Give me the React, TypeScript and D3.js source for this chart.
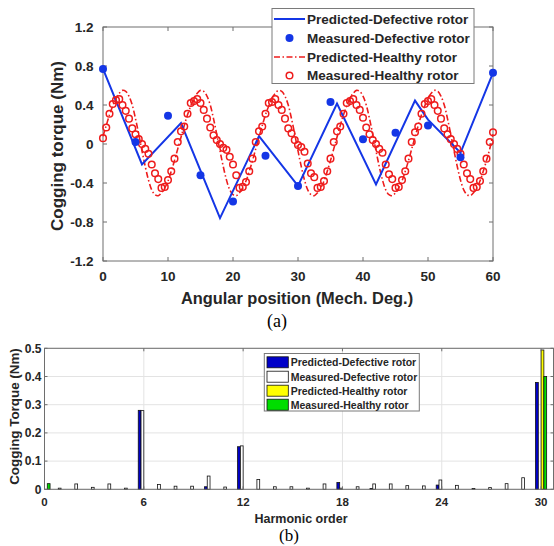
import React from "react";
import * as d3 from "d3";

// ---------- (a) cogging torque vs angular position ----------
const predDefAngles = [0, 6, 12, 18, 24, 30, 36, 42, 48, 50, 55, 60];
const predDefValues = [0.77, -0.21, 0.215, -0.76, 0.08, -0.43, 0.415, -0.415, 0.445, 0.25, -0.09, 0.73];

const measDefAngles = [0, 5, 10, 15, 20, 25, 30, 35, 40, 45, 50, 55, 60];
const measDefValues = [0.77, 0.02, 0.29, -0.32, -0.59, -0.12, -0.43, 0.43, 0.05, 0.115, 0.19, -0.135, 0.73];

const healthyAngles = d3.range(0, 60.001, 0.5);
const predHealthyValues = [
  0.08, 0.19, 0.30, 0.39, 0.47, 0.52, 0.55, 0.54, 0.49, 0.40, 0.26, 0.10,
  -0.07, -0.23, -0.37, -0.47, -0.52, -0.53, -0.50, -0.45, -0.38, -0.28, -0.17, -0.05,
  0.07, 0.19, 0.30, 0.39, 0.47, 0.52, 0.55, 0.54, 0.49, 0.40, 0.26, 0.10,
  -0.07, -0.23, -0.37, -0.47, -0.52, -0.53, -0.50, -0.45, -0.38, -0.28, -0.17, -0.05,
  0.07, 0.19, 0.30, 0.39, 0.47, 0.52, 0.55, 0.54, 0.49, 0.40, 0.26, 0.10,
  -0.07, -0.23, -0.37, -0.47, -0.52, -0.53, -0.50, -0.45, -0.38, -0.28, -0.17, -0.05,
  0.07, 0.19, 0.30, 0.39, 0.47, 0.52, 0.55, 0.54, 0.49, 0.40, 0.26, 0.10,
  -0.07, -0.23, -0.37, -0.47, -0.52, -0.53, -0.50, -0.45, -0.38, -0.28, -0.17, -0.05,
  0.07, 0.19, 0.30, 0.39, 0.47, 0.52, 0.55, 0.54, 0.49, 0.40, 0.26, 0.10,
  -0.07, -0.23, -0.37, -0.47, -0.52, -0.53, -0.50, -0.45, -0.38, -0.28, -0.17, -0.05,
  0.10,
];
const measHealthyValues = [
  0.06, 0.17, 0.31, 0.41, 0.45, 0.46, 0.40, 0.34, 0.26, 0.16, 0.10, 0.05,
  0.00, -0.05, -0.10, -0.21, -0.30, -0.36, -0.45, -0.44, -0.37, -0.28, -0.15, 0.02,
  0.13, 0.18, 0.31, 0.42, 0.44, 0.46, 0.42, 0.35, 0.26, 0.17, 0.09, 0.04,
  0.00, -0.04, -0.06, -0.13, -0.21, -0.32, -0.45, -0.44, -0.39, -0.28, -0.15, 0.02,
  0.13, 0.18, 0.31, 0.42, 0.43, 0.46, 0.40, 0.35, 0.26, 0.16, 0.11, 0.04,
  -0.01, -0.03, -0.08, -0.20, -0.30, -0.34, -0.45, -0.44, -0.38, -0.28, -0.15, 0.02,
  0.13, 0.18, 0.31, 0.42, 0.44, 0.46, 0.40, 0.35, 0.27, 0.17, 0.10, 0.04,
  0.00, -0.05, -0.09, -0.21, -0.31, -0.36, -0.45, -0.44, -0.37, -0.28, -0.15, 0.02,
  0.12, 0.18, 0.31, 0.41, 0.44, 0.46, 0.40, 0.34, 0.26, 0.16, 0.10, 0.05,
  0.00, -0.05, -0.10, -0.21, -0.30, -0.36, -0.45, -0.44, -0.38, -0.28, -0.15, 0.02,
  0.12,
];

const xTicksA = [0, 10, 20, 30, 40, 50, 60];
const yTicksA = [1.2, 0.8, 0.4, 0, -0.4, -0.8, -1.2];
const legendA = [
  "Predicted-Defective rotor",
  "Measured-Defective rotor",
  "Predicted-Healthy rotor",
  "Measured-Healthy rotor",
];

// ---------- (b) harmonic spectrum ----------
const harmonics = d3.range(0, 31);
const harmPredDef = [
  0, 0, 0, 0, 0, 0, 0.28, 0, 0, 0, 0.009, 0, 0.151, 0, 0, 0, 0, 0, 0.024, 0,
  0.003, 0, 0, 0, 0.015, 0, 0, 0, 0, 0, 0.379,
];
const harmMeasDef = [
  0, 0.004, 0.019, 0.007, 0.019, 0.004, 0.279, 0.017, 0.011, 0.011, 0.047, 0.008,
  0.154, 0.035, 0.009, 0.009, 0.004, 0.019, 0.004, 0.009, 0.019, 0.019, 0.013,
  0.012, 0.033, 0.014, 0.003, 0.006, 0.02, 0.041, 0,
];
const harmPredHealthy = [
  0, 0, 0, 0, 0, 0, 0, 0, 0, 0, 0, 0, 0, 0, 0, 0, 0, 0, 0, 0, 0, 0, 0, 0, 0, 0,
  0, 0, 0, 0, 0.494,
];
const harmMeasHealthy = [
  0.02, 0, 0, 0, 0, 0, 0, 0, 0, 0, 0, 0, 0, 0, 0, 0, 0, 0, 0, 0, 0, 0, 0, 0, 0,
  0, 0, 0, 0, 0, 0.4,
];
const xTicksB = [0, 6, 12, 18, 24, 30];
const yTicksB = [0, 0.1, 0.2, 0.3, 0.4, 0.5];
const legendB = [
  "Predicted-Defective rotor",
  "Measured-Defective rotor",
  "Predicted-Healthy rotor",
  "Measured-Healthy rotor",
];

const FONT = "'Liberation Sans', Arial, sans-serif";
const BLUE = "#1436e6";
const RED = "#ee1c1c";
const AXIS = "#6e6e6e";
const TXT = "#262626";

function ChartA() {
  const L = 103, R = 493, T = 27, B = 261;
  const x = d3.scaleLinear().domain([0, 60]).range([L, R]);
  const y = d3.scaleLinear().domain([-1.2, 1.2]).range([B, T]);
  const linePD = d3
    .line<number>()
    .x((_, i) => x(predDefAngles[i]))
    .y((d) => y(d))(predDefValues) as string;
  const linePH = d3
    .line<number>()
    .x((_, i) => x(healthyAngles[i]))
    .y((d) => y(d))
    .curve(d3.curveCatmullRom)(predHealthyValues) as string;
  const rows = [19, 38, 57, 75.5];
  return (
    <g>
      <rect x={L} y={T} width={R - L} height={B - T} fill="white" stroke={AXIS} strokeWidth={1} />
      {xTicksA.map((t) => (
        <g key={"xa" + t}>
          <line x1={x(t)} x2={x(t)} y1={B} y2={B - 4} stroke={AXIS} />
          <line x1={x(t)} x2={x(t)} y1={T} y2={T + 4} stroke={AXIS} />
          <text x={x(t)} y={281} textAnchor="middle" fontFamily={FONT} fontWeight="bold" fontSize={13.5} fill={TXT}>
            {t}
          </text>
        </g>
      ))}
      {yTicksA.map((t) => (
        <g key={"ya" + t}>
          <line x1={L} x2={L + 4} y1={y(t)} y2={y(t)} stroke={AXIS} />
          <line x1={R} x2={R - 4} y1={y(t)} y2={y(t)} stroke={AXIS} />
          <text x={93.5} y={y(t) + 5} textAnchor="end" fontFamily={FONT} fontWeight="bold" fontSize={13.5} fill={TXT}>
            {t === 0 ? "0" : t.toFixed(1)}
          </text>
        </g>
      ))}
      <path d={linePH} fill="none" stroke={RED} strokeWidth={1.6} strokeDasharray="6,2.5,1.5,2.5" />
      <path d={linePD} fill="none" stroke={BLUE} strokeWidth={2} />
      {measHealthyValues.map((v, i) => (
        <circle key={"mh" + i} cx={x(healthyAngles[i])} cy={y(v)} r={3.3} fill="none" stroke={RED} strokeWidth={1.5} />
      ))}
      {measDefValues.map((v, i) => (
        <circle key={"md" + i} cx={x(measDefAngles[i])} cy={y(v)} r={4} fill={BLUE} />
      ))}
      {/* legend */}
      <rect x={272} y={8.5} width={202} height={75} fill="white" stroke="#7a7a7a" strokeWidth={1} />
      <line x1={274} x2={305} y1={rows[0]} y2={rows[0]} stroke={BLUE} strokeWidth={2} />
      <circle cx={289.5} cy={rows[1]} r={4} fill={BLUE} />
      <line x1={274} x2={305} y1={rows[2]} y2={rows[2]} stroke={RED} strokeWidth={1.6} strokeDasharray="6,2.5,1.5,2.5" />
      <circle cx={289.5} cy={rows[3]} r={3.3} fill="none" stroke={RED} strokeWidth={1.5} />
      {legendA.map((s, i) => (
        <text key={"la" + i} x={307} y={rows[i] + 4.8} fontFamily={FONT} fontWeight="bold" fontSize={13.5} fill={TXT}>
          {s}
        </text>
      ))}
      <text x={297} y={304} textAnchor="middle" fontFamily={FONT} fontWeight="bold" fontSize={16.4} fill={TXT}>
        Angular position (Mech. Deg.)
      </text>
      <text
        transform={`translate(63,146) rotate(-90)`}
        textAnchor="middle"
        fontFamily={FONT}
        fontWeight="bold"
        fontSize={17}
        fill={TXT}
      >
        Cogging torque (Nm)
      </text>
      <text x={277} y={327} textAnchor="middle" fontFamily="'Liberation Serif', 'Times New Roman', serif" fontSize={18} fill="black">
        (a)
      </text>
    </g>
  );
}

function ChartB() {
  const L = 44.5, R = 553.5, T = 348.3, B = 489.3;
  const x = d3.scaleLinear().domain([0, 30.75]).range([L, R]);
  const y = d3.scaleLinear().domain([0, 0.5]).range([B, T]);
  const bw = 0.168;
  const series = [
    { vals: harmPredDef, fill: "#0000c8", off: -2 },
    { vals: harmMeasDef, fill: "#ffffff", off: -1 },
    { vals: harmPredHealthy, fill: "#ffff00", off: 0 },
    { vals: harmMeasHealthy, fill: "#00dd00", off: 1 },
  ];
  const rows = [362.3, 376.7, 390.7, 404.7];
  return (
    <g>
      <rect x={L} y={T} width={R - L} height={B - T} fill="white" />
      {xTicksB.map((t) => (
        <line key={"gx" + t} x1={x(t)} x2={x(t)} y1={T} y2={B} stroke="#e3e3e3" strokeWidth={1} />
      ))}
      {yTicksB.map((t) => (
        <line key={"gy" + t} x1={L} x2={R} y1={y(t)} y2={y(t)} stroke="#e3e3e3" strokeWidth={1} />
      ))}
      {series.map((s, si) =>
        s.vals.map((v, i) =>
          v > 0 ? (
            <rect
              key={"b" + si + "-" + i}
              x={x(harmonics[i] + s.off * bw)}
              y={y(v)}
              width={x(bw) - x(0)}
              height={y(0) - y(v)}
              fill={s.fill}
              stroke="#111"
              strokeWidth={0.8}
            />
          ) : null
        )
      )}
      <rect x={L} y={T} width={R - L} height={B - T} fill="none" stroke={AXIS} strokeWidth={1} />
      {xTicksB.map((t) => (
        <g key={"xb" + t}>
          <line x1={x(t)} x2={x(t)} y1={B} y2={B - 3} stroke={AXIS} />
          <line x1={x(t)} x2={x(t)} y1={T} y2={T + 3} stroke={AXIS} />
          <text x={x(t)} y={506} textAnchor="middle" fontFamily={FONT} fontWeight="bold" fontSize={11.5} fill={TXT}>
            {t}
          </text>
        </g>
      ))}
      {yTicksB.map((t) => (
        <g key={"yb" + t}>
          <line x1={L} x2={L + 3} y1={y(t)} y2={y(t)} stroke={AXIS} />
          <line x1={R} x2={R - 3} y1={y(t)} y2={y(t)} stroke={AXIS} />
          <text x={41.5} y={y(t) + 4.2} textAnchor="end" fontFamily={FONT} fontWeight="bold" fontSize={12} fill={TXT}>
            {t === 0 ? "0" : t.toFixed(1)}
          </text>
        </g>
      ))}
      {/* legend */}
      <rect x={264.3} y={353.5} width={155} height={57.5} fill="white" stroke="#7a7a7a" strokeWidth={1} />
      {series.map((s, i) => (
        <rect key={"ls" + i} x={267} y={rows[i] - 5.5} width={21.3} height={11} fill={s.fill} stroke="#111" strokeWidth={0.8} />
      ))}
      {legendB.map((s, i) => (
        <text key={"lb" + i} x={290.7} y={rows[i] + 3.8} fontFamily={FONT} fontWeight="bold" fontSize={10.5} fill={TXT}>
          {s}
        </text>
      ))}
      <text x={301} y={522.5} textAnchor="middle" fontFamily={FONT} fontWeight="bold" fontSize={12.5} fill={TXT}>
        Harmonic order
      </text>
      <text
        transform={`translate(18.5,416.5) rotate(-90)`}
        textAnchor="middle"
        fontFamily={FONT}
        fontWeight="bold"
        fontSize={13.4}
        fill={TXT}
      >
        Cogging Torque (Nm)
      </text>
      <text x={289} y={540.5} textAnchor="middle" fontFamily="'Liberation Serif', 'Times New Roman', serif" fontSize={17} fill="black">
        (b)
      </text>
    </g>
  );
}

export default function App() {
  return (
    <svg
      width={554}
      height={546}
      viewBox="0 0 554 546"
      style={{ position: "absolute", left: 0, top: 0, background: "white" }}
    >
      <rect x={0} y={0} width={554} height={546} fill="white" />
      <ChartA />
      <ChartB />
    </svg>
  );
}
